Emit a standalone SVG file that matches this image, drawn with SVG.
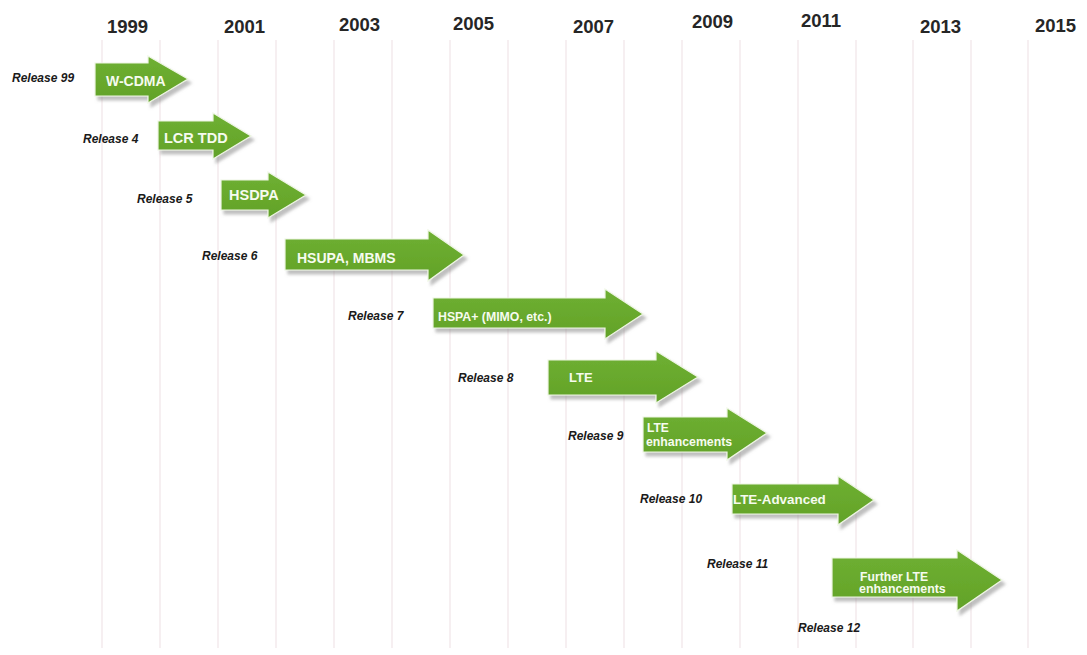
<svg xmlns="http://www.w3.org/2000/svg" width="1087" height="655" viewBox="0 0 1087 655">
<defs>
<filter id="sh" x="-10%" y="-20%" width="130%" height="150%">
<feDropShadow dx="3" dy="4" stdDeviation="1.6" flood-color="#8a8a8a" flood-opacity="0.55"/>
</filter>
<linearGradient id="g" x1="0" y1="0" x2="0" y2="1">
<stop offset="0" stop-color="#6fb032"/>
<stop offset="1" stop-color="#62a228"/>
</linearGradient>
</defs>
<style>
.grid line{stroke:#f3eaed;stroke-width:1.5}
.year{font-family:"Liberation Sans",Arial,sans-serif;font-weight:bold;font-size:18.5px;fill:#262626}
.rel{font-family:"Liberation Sans",Arial,sans-serif;font-weight:bold;font-style:italic;font-size:12px;fill:#1a1a1a}
.arr{fill:url(#g);stroke:#eef6e4;stroke-width:1.2;filter:url(#sh)}
.lbl{font-family:"Liberation Sans",Arial,sans-serif;font-weight:bold;fill:#f6fbef}
</style>
<rect width="1087" height="655" fill="#ffffff"/>
<g class="grid">
<line x1="102" y1="40" x2="102" y2="648"/>
<line x1="160" y1="40" x2="160" y2="648"/>
<line x1="218" y1="40" x2="218" y2="648"/>
<line x1="276" y1="40" x2="276" y2="648"/>
<line x1="334" y1="40" x2="334" y2="648"/>
<line x1="392" y1="40" x2="392" y2="648"/>
<line x1="450" y1="40" x2="450" y2="648"/>
<line x1="508" y1="40" x2="508" y2="648"/>
<line x1="566" y1="40" x2="566" y2="648"/>
<line x1="624" y1="40" x2="624" y2="648"/>
<line x1="682" y1="40" x2="682" y2="648"/>
<line x1="740" y1="40" x2="740" y2="648"/>
<line x1="798" y1="40" x2="798" y2="648"/>
<line x1="856" y1="40" x2="856" y2="648"/>
<line x1="913" y1="40" x2="913" y2="648"/>
<line x1="971" y1="40" x2="971" y2="648"/>
<line x1="1028" y1="40" x2="1028" y2="648"/>
</g>
<g id="years">
<text class="year" x="107" y="33">1999</text>
<text class="year" x="224" y="33">2001</text>
<text class="year" x="339" y="31">2003</text>
<text class="year" x="453" y="30">2005</text>
<text class="year" x="573" y="33">2007</text>
<text class="year" x="692" y="28">2009</text>
<text class="year" x="801" y="27">2011</text>
<text class="year" x="920" y="33">2013</text>
<text class="year" x="1035" y="32">2015</text>
</g>
<g id="r99">
<text class="rel" x="12" y="82">Release 99</text>
<polygon class="arr" points="95,63 148,63 148,56 188,79 148,103 148,96 95,96"/>
<text class="lbl" x="106" y="86" font-size="14">W-CDMA</text>
</g>
<g id="r4">
<text class="rel" x="83" y="143">Release 4</text>
<polygon class="arr" points="158,121 213,121 213,113 251,136 213,159 213,150 158,150"/>
<text class="lbl" x="164" y="143" font-size="14.5">LCR TDD</text>
</g>
<g id="r5">
<text class="rel" x="137" y="203">Release 5</text>
<polygon class="arr" points="221,180 268,180 268,172 306,195 268,218 268,210 221,210"/>
<text class="lbl" x="229" y="200" font-size="14.5">HSDPA</text>
</g>
<g id="r6">
<text class="rel" x="202" y="260">Release 6</text>
<polygon class="arr" points="285,239 428,239 428,230 464,255 428,281 428,270 285,270"/>
<text class="lbl" x="297" y="263" font-size="14">HSUPA, MBMS</text>
</g>
<g id="r7">
<text class="rel" x="348" y="320">Release 7</text>
<polygon class="arr" points="433,298 605,298 605,289 643,314 605,339 605,328 433,328"/>
<text class="lbl" x="438" y="321" font-size="12.3">HSPA+ (MIMO, etc.)</text>
</g>
<g id="r8">
<text class="rel" x="458" y="382">Release 8</text>
<polygon class="arr" points="548,360 656,360 656,351 698,377 656,403 656,395 548,395"/>
<text class="lbl" x="569" y="382" font-size="13">LTE</text>
</g>
<g id="r9">
<text class="rel" x="568" y="440">Release 9</text>
<polygon class="arr" points="643,417 727,417 727,408 767,433 727,460 727,452 643,452"/>
<text class="lbl" x="647" y="432" font-size="12">LTE</text>
<text class="lbl" x="646" y="446" font-size="12.3">enhancements</text>
</g>
<g id="r10">
<text class="rel" x="640" y="503">Release 10</text>
<polygon class="arr" points="732,484 838,484 838,476 874,500 838,525 838,514 732,514"/>
<text class="lbl" x="733" y="504" font-size="13.4">LTE-Advanced</text>
</g>
<g id="r11">
<text class="rel" x="707" y="568">Release 11</text>
<polygon class="arr" points="832,558 957,558 957,550 1002,580 957,611 957,597 832,597"/>
<text class="lbl" x="860" y="581" font-size="12.2">Further LTE</text>
<text class="lbl" x="859" y="593" font-size="12.4">enhancements</text>
</g>
<g id="r12">
<text class="rel" x="798" y="632">Release 12</text>
</g>
</svg>
